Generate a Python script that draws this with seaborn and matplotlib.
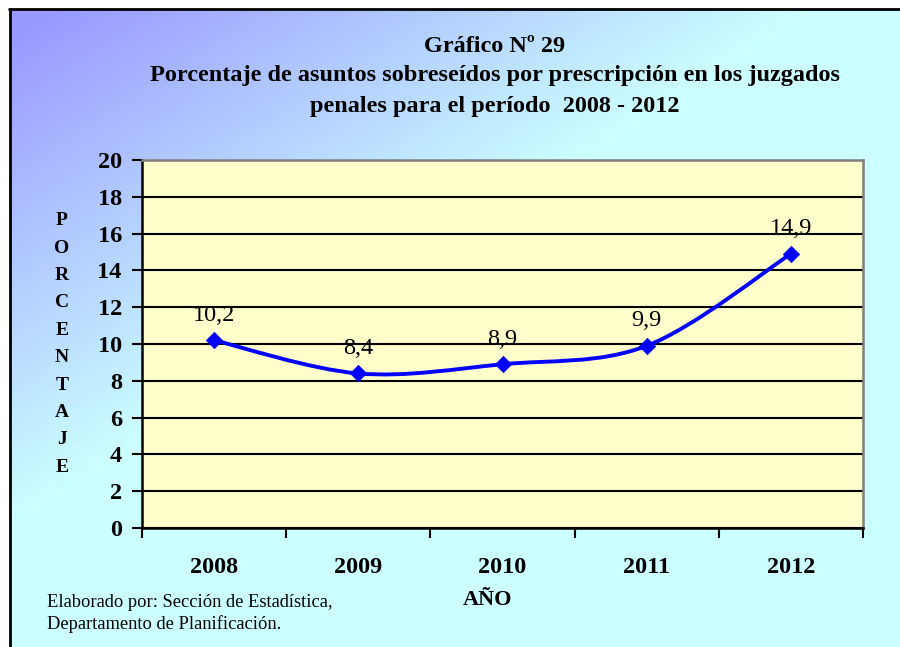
import numpy as np
import matplotlib
matplotlib.use("Agg")
import matplotlib.pyplot as plt
import seaborn as sns
import pandas as pd
from matplotlib.path import Path
from matplotlib.patches import PathPatch, Rectangle

# ---- data ----
years = ["2008", "2009", "2010", "2011", "2012"]
values = [10.2, 8.4, 8.9, 9.9, 14.9]
value_labels = ["10,2", "8,4", "8,9", "9,9", "14,9"]
y_ticks = list(range(0, 21, 2))
title_lines = ["Gráfico Nº 29",
               "Porcentaje de asuntos sobreseídos por prescripción en los juzgados",
               "penales para el período  2008 - 2012"]
y_label = "PORCENTAJE"
x_label = "AÑO"
footnote = ["Elaborado por: Sección de Estadística,", "Departamento de Planificación."]

sns.set_theme(style="white")
plt.rcParams['font.family'] = ['Liberation Serif', 'DejaVu Serif']
plt.rcParams['text.color'] = 'black'
plt.rcParams['xtick.color'] = 'black'
plt.rcParams['ytick.color'] = 'black'
plt.rcParams['xtick.labelcolor'] = 'black'
plt.rcParams['ytick.labelcolor'] = 'black'

W, H = 900, 647
fig = plt.figure(figsize=(W / 100, H / 100), dpi=100)

# ---- gradient background ----
bg = fig.add_axes([0, 0, 1, 1], zorder=-10)
xx, yy = np.meshgrid(np.linspace(0, 1, W), np.linspace(0, 1, H))
t = np.clip((xx / 0.92 + yy / 0.82 - 0.08) / 0.92, 0, 1)
c0 = np.array([153, 153, 255]) / 255
c1 = np.array([204, 255, 255]) / 255
img = c0[None, None, :] * (1 - t[..., None]) + c1[None, None, :] * t[..., None]
bg.imshow(img, extent=[0, W, H, 0], aspect='auto', interpolation='bilinear')
bg.add_patch(Rectangle((0, 0), W, 9, color='white', lw=0))
bg.add_patch(Rectangle((0, 0), 10, H, color='white', lw=0))
bg.plot([10, 10], [9, H + 5], color='black', lw=2)
bg.plot([9, W + 5], [9, 9], color='black', lw=2)
bg.set_xlim(0, W)
bg.set_ylim(H, 0)
bg.axis('off')

# ---- main axes ----
ax = fig.add_axes([142 / W, 119 / H, 721 / W, 368 / H])
ax.set_facecolor('#FFFFCC')

df = pd.DataFrame({"pos": np.arange(len(years)), "value": values})

# smooth (Excel-like) curve through the points
pts = np.column_stack([df["pos"].values, df["value"].values]).astype(float)
n = len(pts)
verts = [tuple(pts[0])]
codes = [Path.MOVETO]
for i in range(n - 1):
    p0 = pts[max(i - 1, 0)]
    p1 = pts[i]
    p2 = pts[i + 1]
    p3 = pts[min(i + 2, n - 1)]
    c1p = p1 + (p2 - p0) / 6.0
    c2p = p2 - (p3 - p1) / 6.0
    verts += [tuple(c1p), tuple(c2p), tuple(p2)]
    codes += [Path.CURVE4] * 3
ax.add_patch(PathPatch(Path(verts, codes), facecolor='none', edgecolor='#0000FF',
                       lw=2.8, zorder=3, capstyle='round', joinstyle='round'))

sns.scatterplot(data=df, x="pos", y="value", marker='D', s=70, color='#0000FF',
                edgecolor='#0000FF', linewidth=0.5, zorder=4, ax=ax, legend=False)

for i, (v, lab) in enumerate(zip(values, value_labels)):
    ax.annotate(lab, (i, v), xytext=(0, 14), textcoords='offset points',
                ha='center', va='baseline', fontsize=17.5, color='black')

ax.set_xlim(-0.5, len(years) - 0.5)
ax.set_ylim(0, 20)
ax.set_yticks(y_ticks)
ax.set_yticklabels([str(v) for v in y_ticks], fontsize=17.5, fontweight='bold')
ax.set_xticks(np.arange(-0.5, len(years), 1.0))
ax.set_xticklabels([])
ax.set_xticks(np.arange(len(years)), minor=True)
ax.set_xticklabels(years, minor=True, fontsize=17.5, fontweight='bold')
ax.tick_params(axis='x', which='major', direction='out', length=7, width=1.5,
               color='black', bottom=True)
ax.tick_params(axis='x', which='minor', length=0, pad=21)
ax.tick_params(axis='y', direction='out', length=7.5, width=1.5, color='black',
               left=True, pad=7)
ax.set_xlabel("")
ax.set_ylabel("")
ax.yaxis.grid(True, color='black', lw=1.5)
ax.xaxis.grid(False)
ax.set_axisbelow(True)
for s in ['left', 'bottom']:
    ax.spines[s].set_color('black')
    ax.spines[s].set_linewidth(1.8)
for s in ['top', 'right']:
    ax.spines[s].set_color('#808080')
    ax.spines[s].set_linewidth(1.8)

# ---- texts ----
fig.text(495 / W, 1 - 52 / H, title_lines[0], ha='center', va='baseline',
         fontsize=17.5, fontweight='bold')
fig.text(495 / W, 1 - 81 / H, title_lines[1], ha='center', va='baseline',
         fontsize=17.5, fontweight='bold')
fig.text(495 / W, 1 - 112 / H, title_lines[2], ha='center', va='baseline',
         fontsize=17.5, fontweight='bold')

fig.text(62 / W, 1 - 344 / H, "\n".join(y_label), ha='center', va='center',
         fontsize=14, fontweight='bold', linespacing=1.8)
fig.text(488 / W, 1 - 605 / H, x_label, ha='center', va='baseline',
         fontsize=16, fontweight='bold')
fig.text(47 / W, 1 - 607 / H, footnote[0], ha='left', va='baseline', fontsize=13.3)
fig.text(47 / W, 1 - 629 / H, footnote[1], ha='left', va='baseline', fontsize=13.3)

fig.savefig("out.png", dpi=100)
